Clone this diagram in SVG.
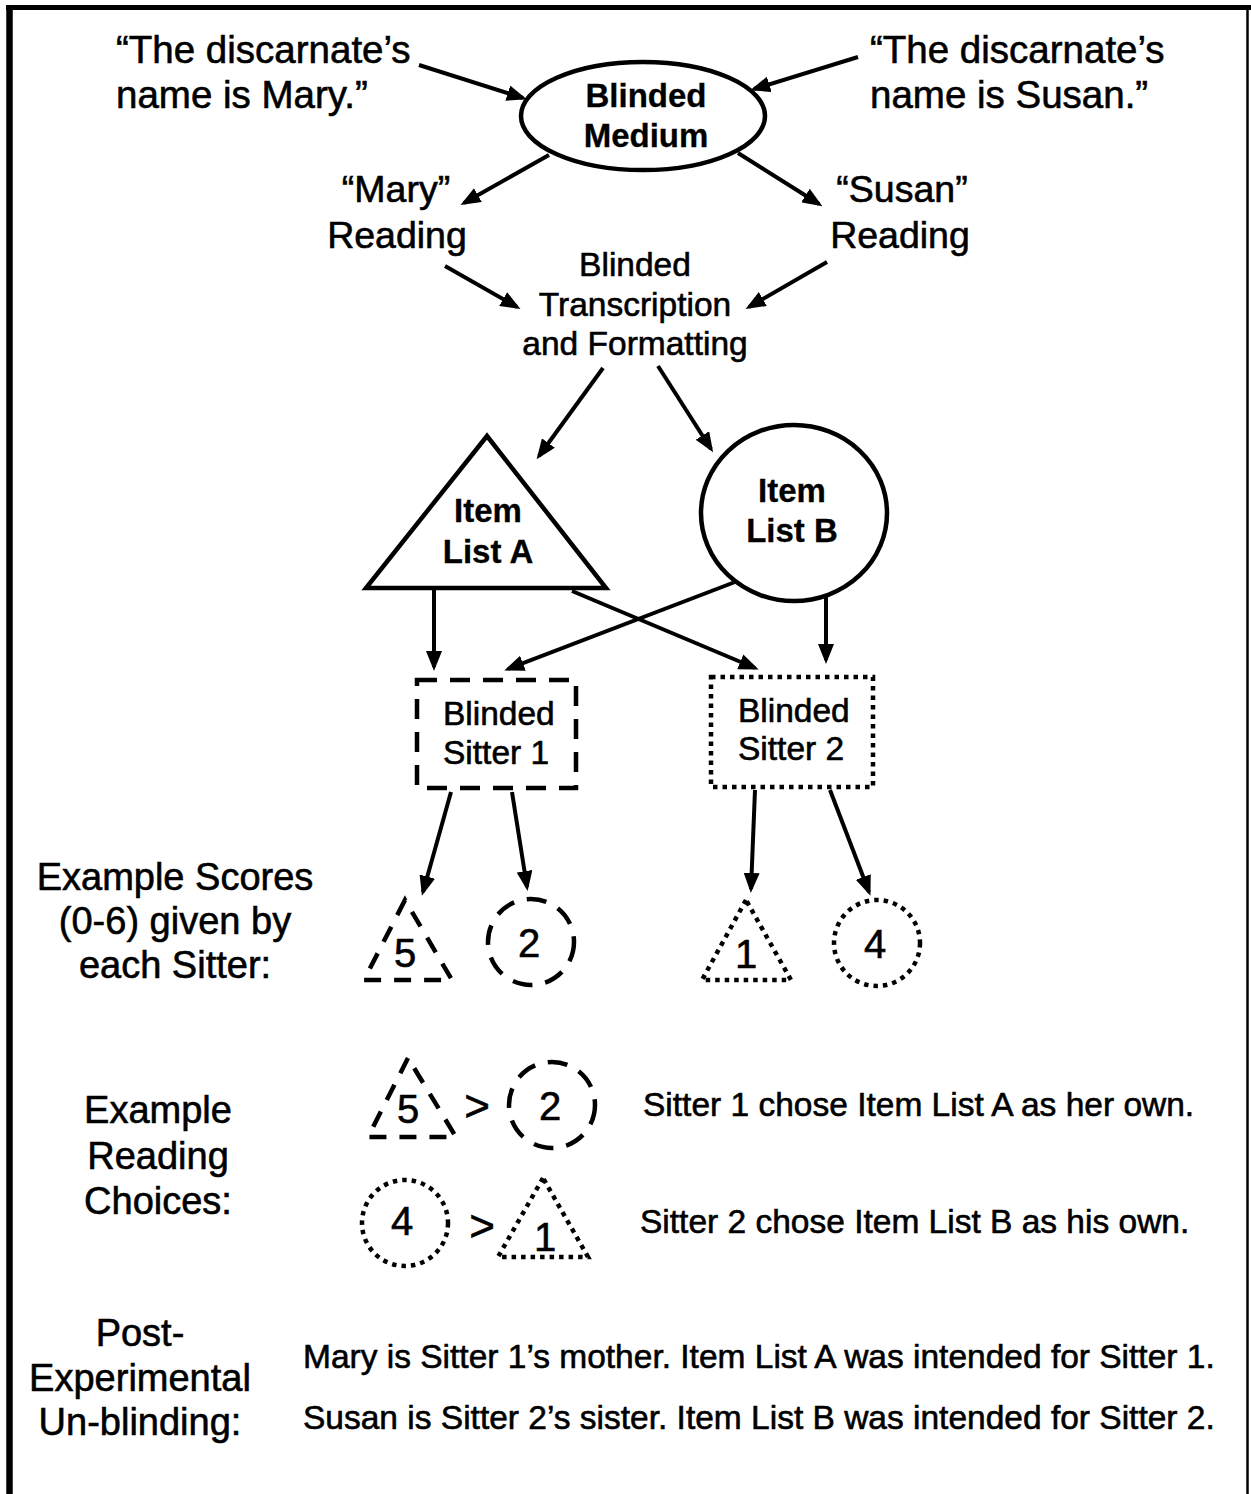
<svg xmlns="http://www.w3.org/2000/svg" width="1251" height="1494" viewBox="0 0 1251 1494">
<defs>
<marker id="ah" markerUnits="userSpaceOnUse" markerWidth="20" markerHeight="16" viewBox="0 0 20 16" refX="16" refY="8" orient="auto">
<path d="M0,0 L20,8 L0,16 z" fill="#000"/>
</marker>
<style>
text{font-family:"Liberation Sans",Arial,Helvetica,sans-serif;fill:#000;text-anchor:middle;stroke:#000;stroke-width:0.6px}
.f39{font-size:38.5px}
.f38{font-size:38px}
.f37{font-size:37.5px}
.f33{font-size:33.5px}
.b33{font-size:33px;font-weight:bold;stroke-width:0.3px}
.dig{font-size:40px}
.gt{font-size:44px}
.st{text-anchor:start}
.shape{fill:none;stroke:#000;stroke-width:4.5}
.dash{fill:none;stroke:#000;stroke-width:4.5;stroke-dasharray:20 13}
.sdash{fill:none;stroke:#000;stroke-width:4.5;stroke-dasharray:17 13}
.dot{fill:none;stroke:#000;stroke-width:4.5;stroke-dasharray:4.5 5}
.c{fill:none;stroke:#000;stroke-width:4;marker-end:url(#ah)}
</style>
</defs>
<rect width="1251" height="1494" fill="#fff"/>
<g id="frame" stroke="#000" fill="none">
<line x1="6" y1="7.5" x2="1251" y2="7.5" stroke-width="5"/>
<line x1="9.5" y1="5" x2="9.5" y2="1494" stroke-width="6.5"/>
<line x1="1247.5" y1="5" x2="1247.5" y2="1494" stroke-width="2.5"/>
</g>
<g id="quote-mary">
<text class="f39 st" x="116" y="63">“The discarnate’s</text>
<text class="f39 st" x="116" y="108">name is Mary.”</text>
</g>
<g id="quote-susan">
<text class="f39 st" x="870" y="63">“The discarnate’s</text>
<text class="f39 st" x="870" y="108">name is Susan.”</text>
</g>
<g id="blinded-medium">
<ellipse class="shape" cx="643" cy="116" rx="122" ry="54"/>
<text class="b33" x="646" y="107">Blinded</text>
<text class="b33" x="646" y="147">Medium</text>
</g>
<g id="mary-reading">
<text class="f37" x="396" y="202">“Mary”</text>
<text class="f37" x="397" y="248">Reading</text>
</g>
<g id="susan-reading">
<text class="f37" x="902" y="202">“Susan”</text>
<text class="f37" x="900" y="248">Reading</text>
</g>
<g id="transcription">
<text class="f33" x="635" y="276">Blinded</text>
<text class="f33" x="635" y="316">Transcription</text>
<text class="f33" x="635" y="355">and Formatting</text>
</g>
<g id="item-list-a">
<polygon class="shape" points="487,436 366,588 606,588"/>
<text class="b33" x="488" y="522">Item</text>
<text class="b33" x="488" y="563">List A</text>
</g>
<g id="item-list-b">
<ellipse class="shape" cx="794" cy="513" rx="93" ry="88"/>
<text class="b33" x="792" y="502">Item</text>
<text class="b33" x="792" y="542">List B</text>
</g>
<g id="sitter-1">
<rect class="dash" x="417" y="680" width="159" height="108"/>
<text class="f33 st" x="443" y="725">Blinded</text>
<text class="f33 st" x="443" y="764">Sitter 1</text>
</g>
<g id="sitter-2">
<rect class="dot" x="711" y="677" width="162" height="110"/>
<text class="f33 st" x="738" y="722">Blinded</text>
<text class="f33 st" x="738" y="760">Sitter 2</text>
</g>
<g id="connectors">
<line class="c" x1="419" y1="65" x2="523" y2="98"/>
<line class="c" x1="858" y1="57" x2="754" y2="89"/>
<line class="c" x1="549" y1="155" x2="464" y2="203"/>
<line class="c" x1="738" y1="153" x2="819" y2="204"/>
<line class="c" x1="445" y1="266" x2="517" y2="307"/>
<line class="c" x1="827" y1="262" x2="749" y2="307"/>
<line class="c" x1="603" y1="368" x2="539" y2="456"/>
<line class="c" x1="658" y1="366" x2="711" y2="449"/>
<line class="c" x1="434" y1="590" x2="434" y2="667"/>
<line class="c" x1="572" y1="591" x2="755" y2="668"/>
<line class="c" x1="735" y1="582" x2="508" y2="669"/>
<line class="c" x1="826" y1="597" x2="826" y2="660"/>
<line class="c" x1="451" y1="792" x2="423" y2="892"/>
<line class="c" x1="512" y1="792" x2="527" y2="887"/>
<line class="c" x1="755" y1="790" x2="751" y2="889"/>
<line class="c" x1="830" y1="790" x2="869" y2="892"/>
</g>
<g id="scores-label">
<text class="f38" x="175" y="890">Example Scores</text>
<text class="f38" x="175" y="934">(0-6) given by</text>
<text class="f38" x="175" y="978">each Sitter:</text>
</g>
<g id="score-5">
<polygon class="sdash" points="405,900 364,980 452,980"/>
<text class="dig" x="405" y="967">5</text>
</g>
<g id="score-2">
<circle class="dash" cx="531" cy="942" r="43"/>
<text class="dig" x="529" y="957">2</text>
</g>
<g id="score-1">
<polygon class="dot" points="746,900 702,980 791,980"/>
<text class="dig" x="746" y="968">1</text>
</g>
<g id="score-4">
<circle class="dot" cx="877" cy="943" r="43"/>
<text class="dig" x="875" y="958">4</text>
</g>
<g id="choices-label">
<text class="f38" x="158" y="1123">Example</text>
<text class="f38" x="158" y="1169">Reading</text>
<text class="f38" x="158" y="1214">Choices:</text>
</g>
<g id="choice-1">
<polygon class="sdash" points="408,1058 368,1137 456,1137"/>
<text class="dig" x="408" y="1123">5</text>
<text class="gt" x="477" y="1121">&gt;</text>
<circle class="dash" cx="552" cy="1105" r="43"/>
<text class="dig" x="550" y="1120">2</text>
<text class="f33 st" x="643" y="1116">Sitter 1 chose Item List A as her own.</text>
</g>
<g id="choice-2">
<circle class="dot" cx="405" cy="1223" r="43"/>
<text class="dig" x="402" y="1235">4</text>
<text class="gt" x="482" y="1241">&gt;</text>
<polygon class="dot" points="543,1178 498,1257 588,1257"/>
<text class="dig" x="545" y="1251">1</text>
<text class="f33 st" x="640" y="1233">Sitter 2 chose Item List B as his own.</text>
</g>
<g id="unblinding-label">
<text class="f38" x="140" y="1346">Post-</text>
<text class="f38" x="140" y="1391">Experimental</text>
<text class="f38" x="140" y="1435">Un-blinding:</text>
</g>
<g id="unblinding">
<text class="f33 st" x="303" y="1368">Mary is Sitter 1’s mother. Item List A was intended for Sitter 1.</text>
<text class="f33 st" x="303" y="1429">Susan is Sitter 2’s sister. Item List B was intended for Sitter 2.</text>
</g>
</svg>
